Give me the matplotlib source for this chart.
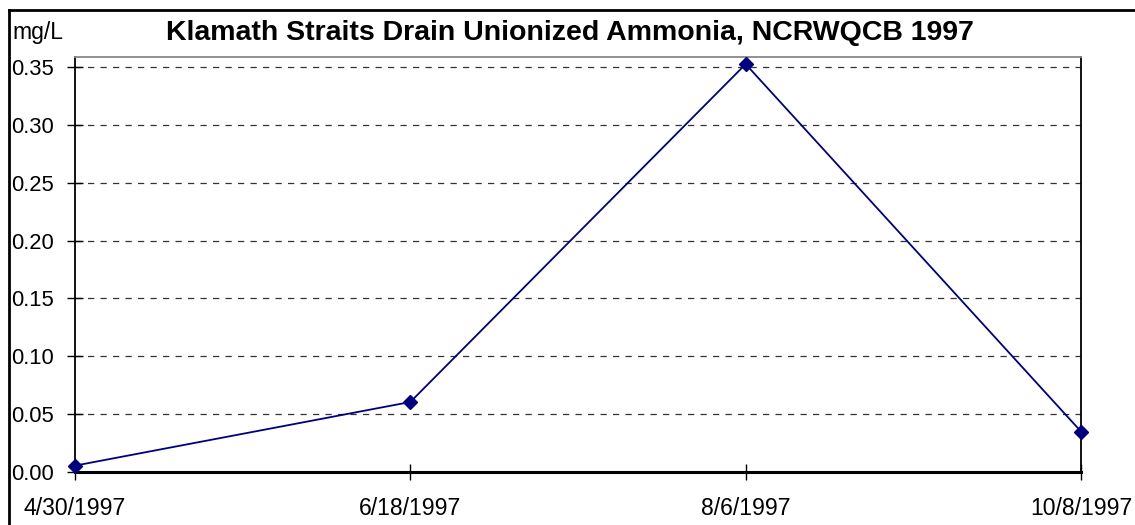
import matplotlib
matplotlib.use("Agg")
import matplotlib.pyplot as plt
from matplotlib.lines import Line2D

# Sampling dates and unionized ammonia (mg/L)
dates = ['4/30/1997', '6/18/1997', '8/6/1997', '10/8/1997']
ammonia = [0.0055, 0.0605, 0.3525, 0.035]
yticks = [0.00, 0.05, 0.10, 0.15, 0.20, 0.25, 0.30, 0.35]

plt.rcParams['font.family'] = ['Liberation Sans', 'DejaVu Sans']

fig = plt.figure(figsize=(11.35, 5.25), dpi=100)
ax = fig.add_axes([75 / 1135, 1 - 472 / 525, (1081 - 75) / 1135, (472 - 57) / 525])

x = list(range(len(dates)))
ax.plot(x, ammonia, color='#000080', linewidth=1.3, marker='D', markersize=7,
        markerfacecolor='#000080', markeredgecolor='#000080', zorder=3, clip_on=False)

ax.set_xlim(0, len(dates) - 1)
ax.set_ylim(0, 0.35 * (472 - 57) / 405)
ax.set_xticks(x)
ax.set_xticklabels(dates)
ax.set_yticks(yticks)
ax.set_yticklabels([f'{v:.2f}' for v in yticks])
ax.tick_params(axis='both', direction='inout', length=12, width=1, colors='black')
ax.tick_params(axis='y', pad=9, labelsize=15.8)
ax.tick_params(axis='x', pad=12, labelsize=16.6)

ax.grid(axis='y', color='#333333', linestyle=(0, (5, 5)), linewidth=0.9)
ax.set_axisbelow(True)

ax.spines['left'].set_color('black')
ax.spines['left'].set_linewidth(1.3)
ax.spines['bottom'].set_color('black')
ax.spines['bottom'].set_linewidth(2.2)
ax.spines['right'].set_color('black')
ax.spines['right'].set_linewidth(1.3)
ax.spines['top'].set_color('#888888')
ax.spines['top'].set_linewidth(1.3)

fig.text(570 / 1135, 1 - 33 / 525, 'Klamath Straits Drain Unionized Ammonia, NCRWQCB 1997',
         ha='center', va='center', fontsize=20.5, fontweight='bold')
fig.text(12 / 1135, 1 - 32 / 525, 'mg/L', ha='left', va='center', fontsize=16.5)

# outer chart border (only top and left fall inside the image)
fig.add_artist(Line2D([8.5 / 1135, 8.5 / 1135], [0, 1 - 9.5 / 525], transform=fig.transFigure,
                      color='black', linewidth=2))
fig.add_artist(Line2D([8.5 / 1135, 1], [1 - 9.5 / 525, 1 - 9.5 / 525], transform=fig.transFigure,
                      color='black', linewidth=2))

fig.savefig('out.png', dpi=100)
